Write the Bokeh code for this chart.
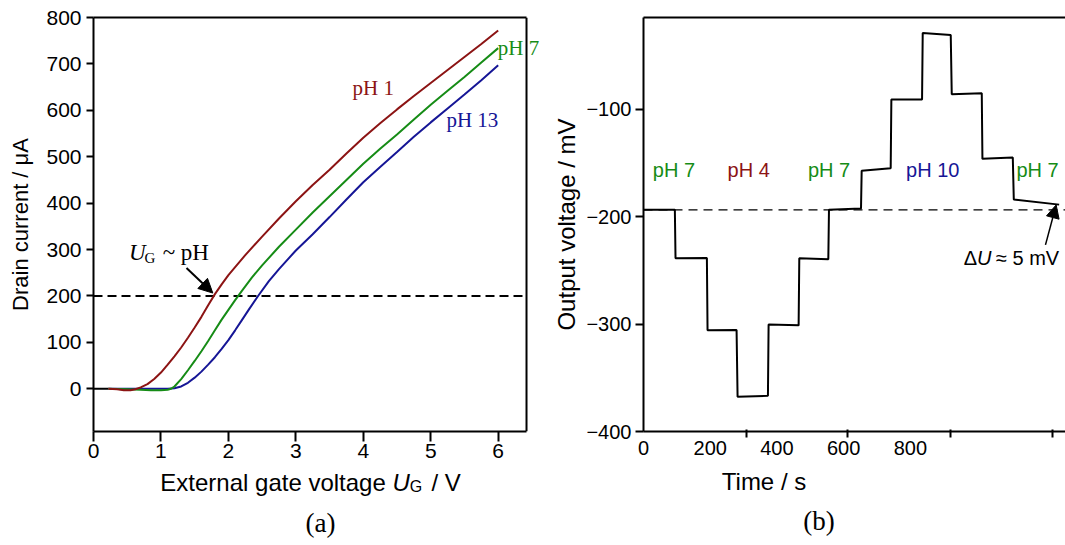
import math
from bokeh.plotting import figure
from bokeh.models import Range1d, FixedTicker, Label, Arrow, NormalHead, LinearAxis
from bokeh.layouts import row, column
from bokeh.embed import file_html
from bokeh.resources import INLINE

SANS = "Liberation Sans"
SERIF = "Liberation Serif"
RED = "#8c1414"
GREEN = "#168c16"
BLUE = "#161696"

# ---------------- panel (a): transfer curves ----------------
ug_red = [0.22, 0.35, 0.45, 0.55, 0.62, 0.7, 0.8, 0.9, 1.0, 1.1, 1.2, 1.3, 1.4, 1.5, 1.6, 1.7, 1.8, 1.9, 2.0,
          2.25, 2.5, 2.75, 3.0, 3.25, 3.5, 3.75, 4.0, 4.25, 4.5, 4.75, 5.0, 5.25, 5.5, 5.75, 6.0]
id_red = [0, -1, -3, -3, -1, 3, 10, 21, 35, 52, 70, 89, 110, 132, 155, 180, 204, 225, 245,
          288, 328, 367, 404, 439, 472, 507, 541, 572, 602, 631, 659, 687, 715, 743, 772]

ug_green = [0.22, 0.5, 0.7, 0.85, 1.0, 1.1, 1.15, 1.2, 1.3, 1.4, 1.5, 1.6, 1.7, 1.8, 1.9, 2.0, 2.1, 2.2,
            2.35, 2.5, 2.75, 3.0, 3.25, 3.5, 3.75, 4.0, 4.25, 4.5, 4.75, 5.0, 5.25, 5.5, 5.75, 6.0]
id_green = [0, -1, -2, -3, -3, -2, 0, 5, 21, 40, 60, 81, 103, 126, 149, 170, 191, 211,
            240, 266, 306, 343, 380, 415, 450, 485, 517, 548, 580, 612, 642, 672, 703, 734]

ug_blue = [0.22, 0.8, 1.1, 1.2, 1.3, 1.4, 1.5, 1.6, 1.7, 1.8, 1.9, 2.0, 2.1, 2.2, 2.3, 2.44, 2.6, 2.75,
           3.0, 3.25, 3.5, 3.75, 4.0, 4.25, 4.5, 4.75, 5.0, 5.25, 5.5, 5.75, 6.0]
id_blue = [0, 0, 0, 1, 5, 13, 24, 37, 52, 68, 86, 105, 126, 148, 170, 200, 232, 258,
           298, 333, 370, 408, 445, 478, 510, 543, 574, 604, 634, 665, 697]

zero_x = [0.0, 0.22]
zero_y = [0, 0]
ref_current = 200
ug_ticks = [0, 1, 2, 3, 4, 5, 6]
id_ticks = [0, 100, 200, 300, 400, 500, 600, 700, 800]
ug_box = (0.0, 6.42)          # visible box of panel (a)
id_box = (-92.0, 800.0)

# ---------------- panel (b): output voltage vs time ----------------
time_s = [0, 94, 96, 190, 192, 279, 282, 373, 375, 465, 467, 554, 556, 652, 654, 741, 743, 835, 837,
          921, 924, 1014, 1016, 1107, 1110, 1246]
u_mv = [-193.6, -193.6, -238.8, -238.5, -305.7, -305.5, -367.7, -366.8, -300.5, -301.2, -238.8, -239.6,
        -193.6, -192.3, -157.2, -154.9, -91.0, -91.0, -29.0, -31.0, -86.1, -85.1, -146.2, -145.0,
        -184.0, -188.8]
u_ref = -193.6
t_labels = [0, 200, 400, 600, 800]
t_marks = [309, 613, 919, 1226]
u_ticks = [-400, -300, -200, -100]
ph_b_text = ["pH 7", "pH 4", "pH 7", "pH 10", "pH 7"]
ph_b_t = [28, 252, 493, 787, 1118]
ph_b_col = [GREEN, RED, GREEN, BLUE, GREEN]

TOP_H = 466
CAP_H = 545 - TOP_H


def lab(p, x, y, text, font=SANS, size="21px", color="black", style="normal", align="left",
        baseline="alphabetic", angle=0.0):
    p.add_layout(Label(x=x, y=y, text=text, text_font=font, text_font_size=size, text_color=color,
                       text_font_style=style, text_align=align, text_baseline=baseline, angle=angle))


def caption_fig(width, left, x0, x1):
    c = figure(width=width, height=CAP_H, output_backend="svg", toolbar_location=None, title=None,
               x_range=Range1d(x0, x1), y_range=Range1d(0, CAP_H), x_axis_type=None, y_axis_type=None,
               min_border_left=left, min_border_right=0, min_border_top=0, min_border_bottom=0)
    c.outline_line_color = None
    c.grid.visible = False
    c.background_fill_color = "white"
    c.border_fill_color = "white"
    return c


# ================= figure a =================
pa = figure(width=548, height=TOP_H, output_backend="svg", toolbar_location=None, title=None,
            x_range=Range1d(0, 6.746), y_range=Range1d(*id_box),
            min_border_left=93, min_border_right=0, min_border_top=17, min_border_bottom=35)
pa.background_fill_color = "white"
pa.border_fill_color = "white"
pa.outline_line_color = None
pa.grid.visible = False

for ax in (pa.xaxis[0], pa.yaxis[0]):
    ax.axis_line_width = 2
    ax.major_tick_line_width = 2
    ax.major_tick_in = 0
    ax.minor_tick_line_color = None
    ax.major_label_text_font = SANS
    ax.major_label_text_font_size = "21px"
    ax.major_label_text_color = "black"
pa.xaxis[0].ticker = FixedTicker(ticks=ug_ticks)
pa.xaxis[0].bounds = ug_box
pa.xaxis[0].major_tick_out = 10
pa.xaxis[0].major_label_standoff = 2
pa.yaxis[0].ticker = FixedTicker(ticks=id_ticks)
pa.yaxis[0].major_tick_out = 7
pa.yaxis[0].major_label_standoff = 5
pa.yaxis[0].axis_label = "Drain current / μA"
pa.yaxis[0].axis_label_text_font = SANS
pa.yaxis[0].axis_label_text_font_size = "22px"
pa.yaxis[0].axis_label_text_font_style = "normal"
pa.yaxis[0].axis_label_text_color = "black"
pa.yaxis[0].axis_label_standoff = 10

top_a = LinearAxis(ticker=FixedTicker(ticks=[]), bounds=ug_box, axis_line_width=2, major_tick_out=0,
                   major_tick_in=0, minor_tick_out=0, minor_tick_in=0, major_label_standoff=0,
                   major_label_text_font_size="0px")
pa.add_layout(top_a, "above")
pa.line([ug_box[1], ug_box[1]], list(id_box), line_color="black", line_width=2)

pa.line(list(ug_box), [ref_current, ref_current], line_color="black", line_width=2, line_dash="9 5")
pa.line(zero_x, zero_y, line_color="black", line_width=2)
pa.line(ug_blue, id_blue, line_color=BLUE, line_width=2)
pa.line(ug_green, id_green, line_color=GREEN, line_width=2)
pa.line(ug_red, id_red, line_color=RED, line_width=2)

lab(pa, 3.84, 649.0, "pH 1", font=SERIF, color=RED)
lab(pa, 5.995, 734.0, "pH 7", font=SERIF, color=GREEN)
lab(pa, 5.233, 580.0, "pH 13", font=SERIF, color=BLUE)
lab(pa, 0.528, 293.2, "U", font=SERIF, size="23px", style="italic")
lab(pa, 0.756, 282.4, "G", font=SERIF, size="15px")
lab(pa, 1.712, 293.2, "~ pH", font=SERIF, size="23px", align="right")
pa.add_layout(Arrow(end=NormalHead(size=14, fill_color="black", line_color="black"),
                    x_start=1.379, y_start=260.2, x_end=1.769, y_end=206.3,
                    line_color="black", line_width=2))

ca = caption_fig(548, 93, 93, 548)
lab(ca, 385.3, 63, "External gate voltage", size="24px", align="right")
lab(ca, 392.0, 63, "U", size="24px", style="italic")
lab(ca, 409.3, 59, "G", size="16px")
lab(ca, 431.0, 63, "/ V", size="24px")
lab(ca, 320, 23, "(a)", font=SERIF, size="27px", align="center", baseline="middle")

# ================= figure b =================
pb = figure(width=517, height=TOP_H, output_backend="svg", toolbar_location=None, title=None,
            x_range=Range1d(0, 1265), y_range=Range1d(-400, -14.6),
            min_border_left=95, min_border_right=0, min_border_top=17, min_border_bottom=35)
pb.background_fill_color = "white"
pb.border_fill_color = "white"
pb.outline_line_color = None
pb.grid.visible = False

xb = pb.xaxis[0]
xb.ticker = FixedTicker(ticks=t_labels, minor_ticks=t_marks)
xb.axis_line_width = 2
xb.major_tick_line_color = None
xb.major_tick_out = 6
xb.major_tick_in = 0
xb.minor_tick_line_color = "black"
xb.minor_tick_line_width = 2
xb.minor_tick_in = 2
xb.minor_tick_out = 6
xb.major_label_standoff = 3
xb.major_label_text_font = SANS
xb.major_label_text_font_size = "20px"
xb.major_label_text_color = "black"

yb = pb.yaxis[0]
yb.ticker = FixedTicker(ticks=u_ticks)
yb.major_label_overrides = {v: "\u2212" + str(abs(v)) for v in u_ticks}
yb.axis_line_width = 2
yb.major_tick_line_width = 2
yb.major_tick_in = 0
yb.major_tick_out = 8
yb.minor_tick_line_color = None
yb.major_label_standoff = 4
yb.major_label_text_font = SANS
yb.major_label_text_font_size = "20px"
yb.major_label_text_color = "black"
yb.axis_label = "Output voltage / mV"
yb.axis_label_text_font = SANS
yb.axis_label_text_font_size = "24px"
yb.axis_label_text_font_style = "normal"
yb.axis_label_text_color = "black"
yb.axis_label_standoff = 3

top_b = LinearAxis(ticker=FixedTicker(ticks=[]), axis_line_width=2, major_tick_out=0, major_tick_in=0,
                   minor_tick_out=0, minor_tick_in=0, major_label_standoff=0,
                   major_label_text_font_size="0px")
pb.add_layout(top_b, "above")

pb.line([0, 1265], [u_ref, u_ref], line_color="black", line_width=1.3, line_dash="9 6")
pb.line(time_s, u_mv, line_color="black", line_width=2)

for txt, t, c in zip(ph_b_text, ph_b_t, ph_b_col):
    lab(pb, t, -156.5, txt, size="20px", color=c)

lab(pb, 960, -238.8, "Δ", size="20px")
lab(pb, 999.6, -238.8, "U", size="20px", style="italic")
lab(pb, 1056.6, -238.8, "≈ 5 mV", size="20px")
pb.add_layout(Arrow(end=NormalHead(size=13, fill_color="black", line_color="black"),
                    x_start=1205, y_start=-226.3, x_end=1237, y_end=-189.1,
                    line_color="black", line_width=1.5))

cb = caption_fig(517, 95, 643, 1065)
lab(cb, 763.5, 64, "Time / s", size="24px", align="center")
lab(cb, 818.5, 25, "(b)", font=SERIF, size="27px", align="center", baseline="middle")

layout = row(column(pa, ca), column(pb, cb))
open("out.html", "w").write(file_html(layout, INLINE))
